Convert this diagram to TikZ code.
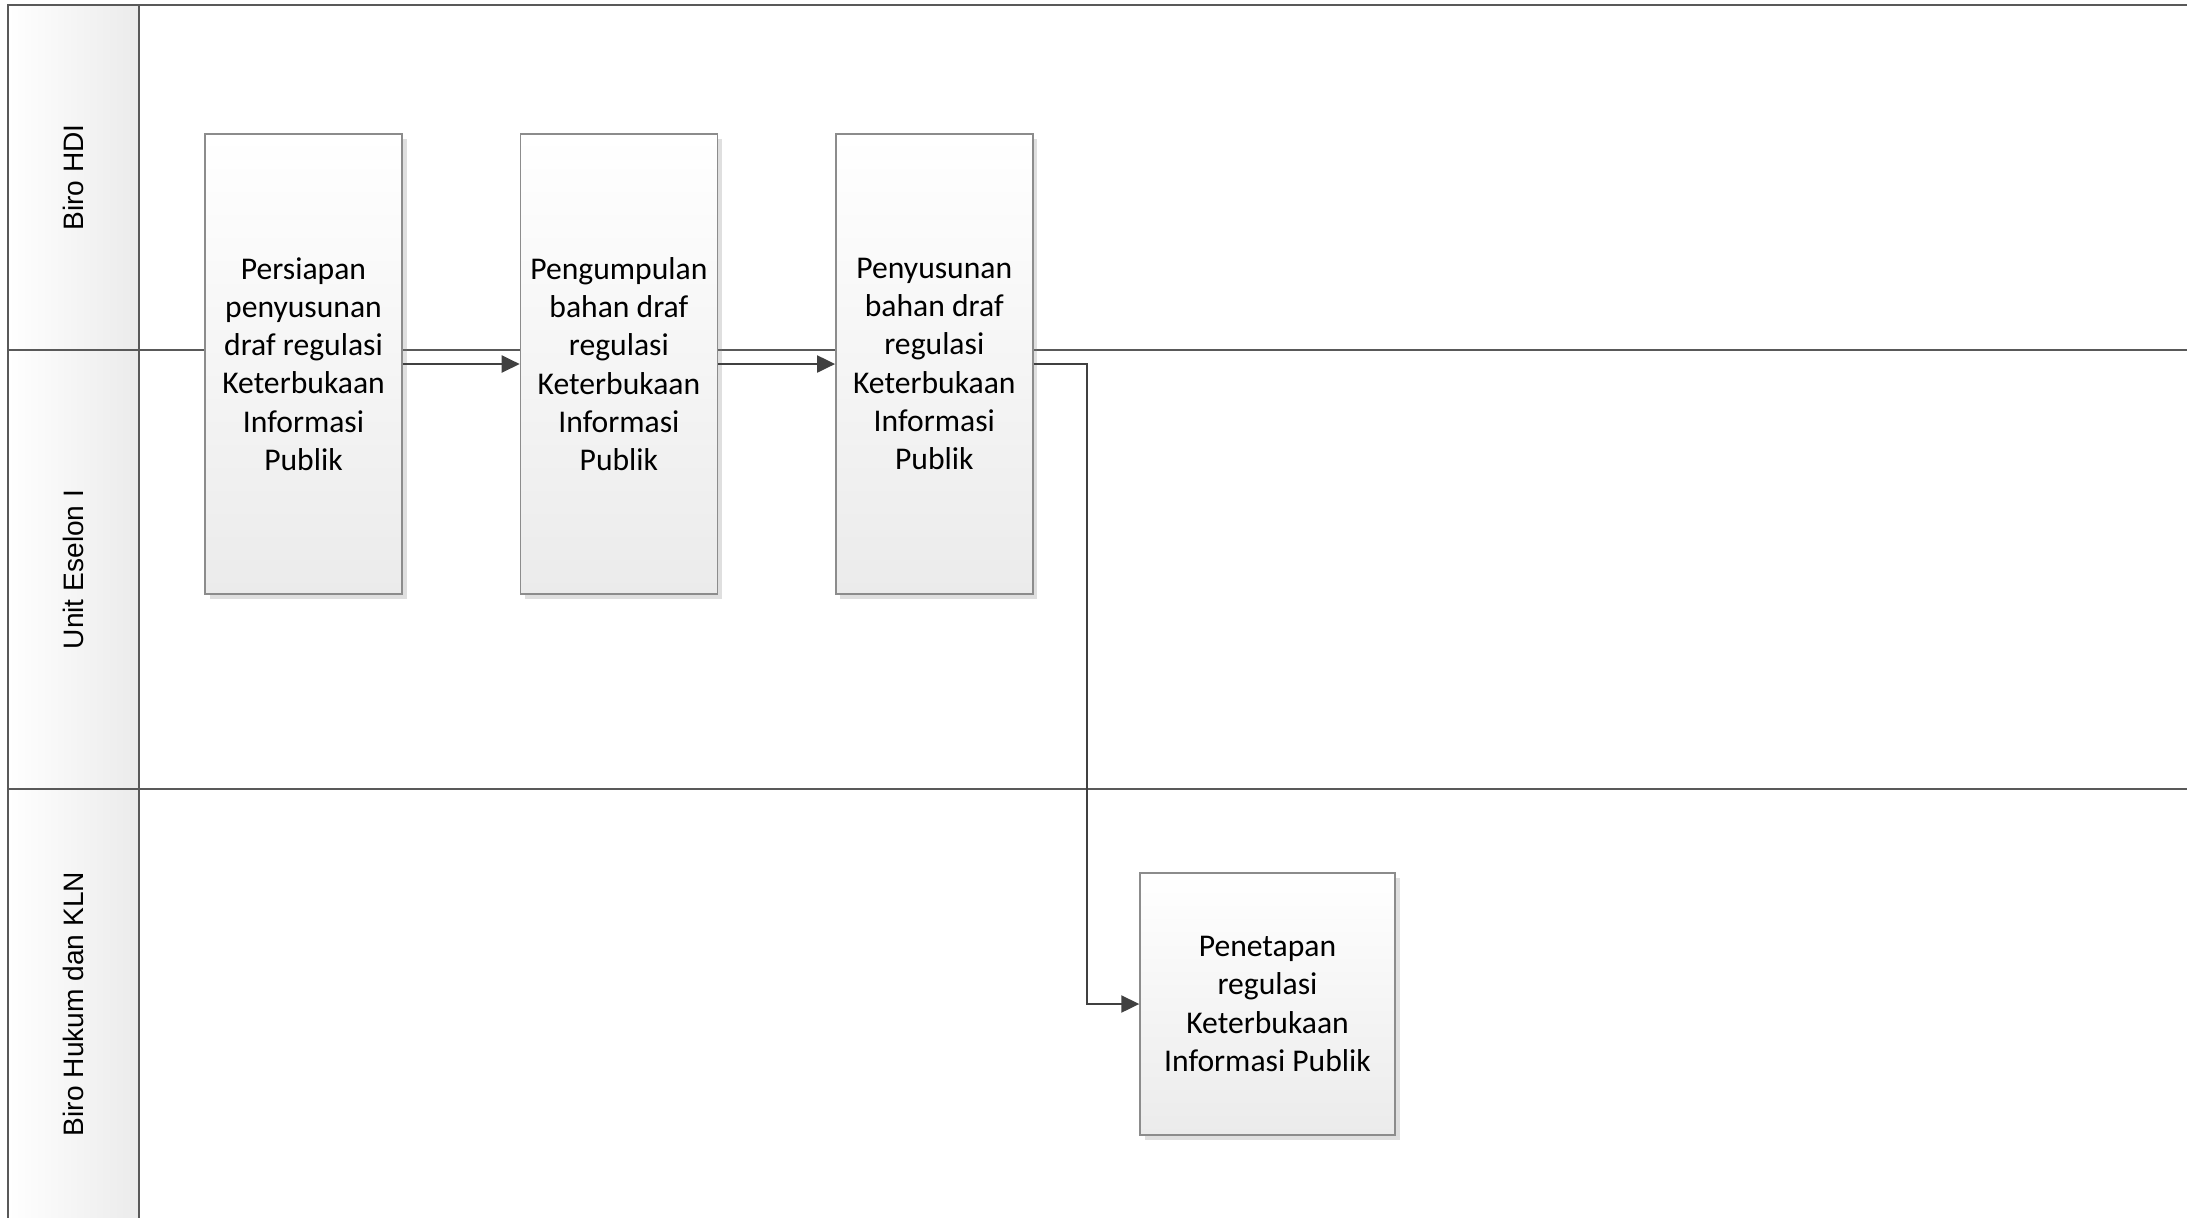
\documentclass[tikz,border=0pt]{standalone}
\usepackage{fontspec}
\setmainfont{Carlito}
\newfontfamily\lanefont{Liberation Sans}
\usetikzlibrary{arrows.meta,positioning,shadows}

\definecolor{laneline}{HTML}{595959}
\definecolor{boxline}{HTML}{8C8C8C}
\definecolor{boxfill}{HTML}{EBEBEB}
\definecolor{arrowcol}{HTML}{404040}

\begin{document}
\begin{tikzpicture}[
    node distance=1.17cm,
    lane/.style={draw=laneline, line width=0.6pt},
    lanelabel/.style={rotate=90, font=\lanefont\fontsize{8}{9.6}\selectfont},
    process/.style={rectangle, draw=boxline, line width=0.4pt, top color=white, bottom color=boxfill, align=center, inner sep=0pt, minimum width=1.97cm, minimum height=4.6cm, font=\fontsize{9}{10.9}\selectfont, drop shadow={shadow xshift=0.45mm, shadow yshift=-0.45mm, opacity=0.25, fill=gray}},
    arrow/.style={-{Triangle[length=1.8mm, width=1.7mm]}, draw=arrowcol, line width=0.6pt}
]
\useasboundingbox (0,0) rectangle (21.87,-12.17);

% Swimlanes
\shade[left color=white, right color=boxfill] (0.08,-0.05) rectangle (1.39,-12.3);
\draw[lane] (0.08,-12.3) -- (0.08,-0.05) -- (21.9,-0.05);
\draw[lane] (1.39,-0.05) -- (1.39,-12.3);
\draw[lane] (0.08,-3.50) -- (21.9,-3.50);
\draw[lane] (0.08,-7.89) -- (21.9,-7.89);

\node[lanelabel] (hdi) at (0.735,-1.775) {Biro HDI};
\node[lanelabel] (eselon) at (0.735,-5.695) {Unit Eselon I};
\node[lanelabel] (hukum) at (0.735,-10.04) {Biro Hukum dan KLN};

% Process steps
\node[process] (prep) at (3.035,-3.64) {Persiapan\\penyusunan\\draf regulasi\\Keterbukaan\\Informasi\\Publik};
\node[process, right=of prep] (collect) {Pengumpulan\\bahan draf\\regulasi\\Keterbukaan\\Informasi\\Publik};
\node[process, right=of collect] (compose) {Penyusunan\\bahan draf\\regulasi\\Keterbukaan\\Informasi\\Publik};
\node[process, minimum width=2.55cm, minimum height=2.62cm] (enact) at (12.675,-10.04) {Penetapan\\regulasi\\Keterbukaan\\Informasi Publik};

% Arrows
\coordinate (bend) at (10.87,-3.64);
\draw[arrow] (prep) -- (collect);
\draw[arrow] (collect) -- (compose);
\draw[arrow] (compose.east) -- (bend) |- (enact.west);
\end{tikzpicture}
\end{document}
